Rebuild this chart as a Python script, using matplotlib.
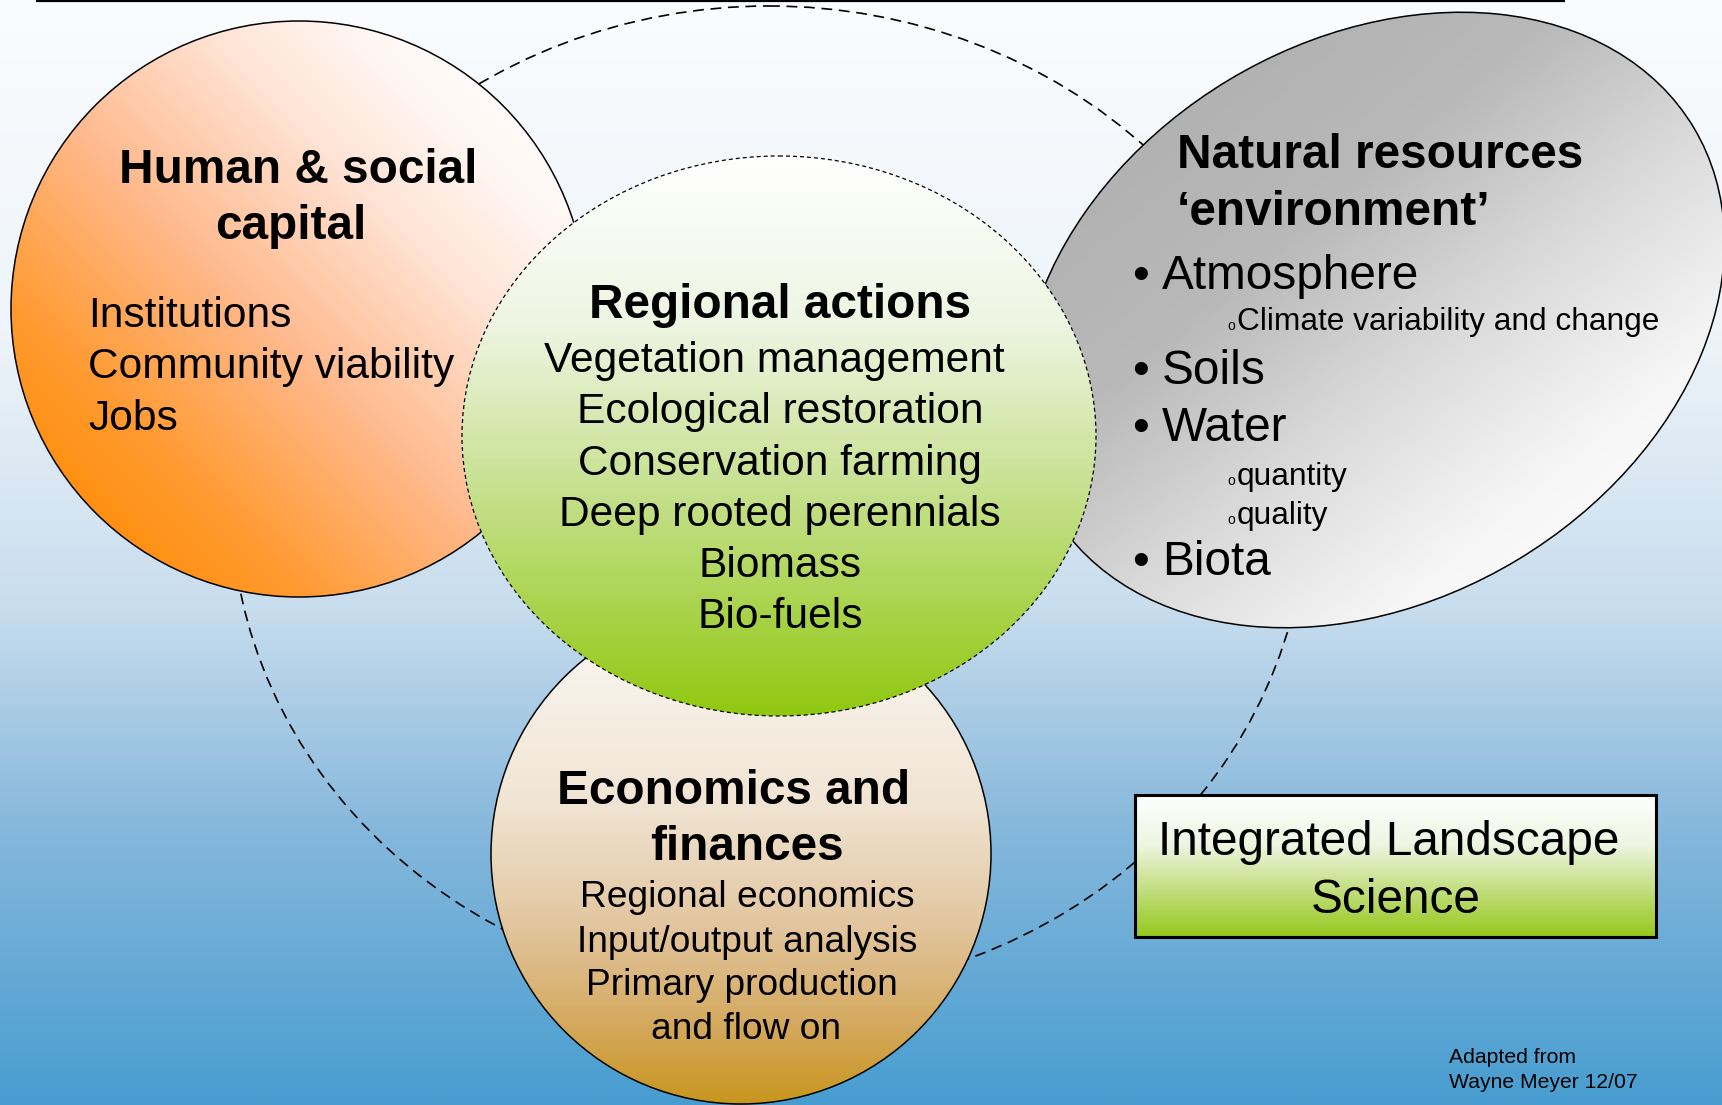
import numpy as np
import matplotlib.pyplot as plt
from matplotlib.patches import Ellipse, Circle, Rectangle
from matplotlib.colors import LinearSegmentedColormap

plt.rcParams['font.family'] = ['Liberation Sans', 'DejaVu Sans']

# text content of the diagram
human_title = ["Human & social", "capital"]
human_items = ["Institutions", "Community viability", "Jobs"]
regional_title = "Regional actions"
regional_items = ["Vegetation management", "Ecological restoration", "Conservation farming",
                  "Deep rooted perennials", "Biomass", "Bio-fuels"]
natural_title = ["Natural resources", "\u2018environment\u2019"]
natural_bullets = ["Atmosphere", "Soils", "Water", "Biota"]
natural_sub = ["Climate variability and change", "quantity", "quality"]
econ_title = ["Economics and", "finances"]
econ_items = ["Regional economics", "Input/output analysis", "Primary production", "and flow on"]
box_text = ["Integrated Landscape", "Science"]
credit = ["Adapted from", "Wayne Meyer 12/07"]

W, H = 1722, 1105
fig = plt.figure(figsize=(W / 100, H / 100), dpi=100)
ax = fig.add_axes([0, 0, 1, 1])
ax.axis('off')

gx, gy = np.meshgrid(np.linspace(0, W, 862), np.linspace(0, H, 553))


def shade(patch, stops, p0, p1, z):
    """linear gradient from p0 to p1, clipped to patch (patch keeps the outline)"""
    ax.add_patch(patch)
    patch.set_zorder(z + 0.1)
    d = np.subtract(p1, p0, dtype=float)
    t = ((gx - p0[0]) * d[0] + (gy - p0[1]) * d[1]) / (d @ d)
    cmap = LinearSegmentedColormap.from_list('g', stops)
    im = ax.imshow(cmap(np.clip(t, 0, 1)), extent=(0, W, H, 0), zorder=z,
                   interpolation='bilinear', aspect='auto')
    im.set_clip_path(patch)
    return im


# background
bg = LinearSegmentedColormap.from_list('bg', [(0, '#fafcfe'), (0.3, '#eef4f9'), (0.55, '#c8ddee'),
                                             (0.75, '#86b8dc'), (1, '#489dd0')])
ax.imshow(bg(np.clip(gy / H, 0, 1)), extent=(0, W, H, 0), zorder=0, interpolation='bilinear', aspect='auto')
ax.plot([36, 1565], [1, 1], color='black', lw=1.6, zorder=1, solid_capstyle='butt')

# big dashed ellipse linking everything
ax.add_patch(Ellipse((769, 500), 1076, 988, fill=False, ec='black', lw=1.2,
                     ls=(0, (6.5, 4)), zorder=1))

# Human & social capital
shade(Circle((299, 309), 288, fc='none', ec='black', lw=1.1),
      [(0, '#ff8a00'), (0.2, '#ff9a30'), (0.45, '#ffb98c'), (0.7, '#ffe4d6'), (0.85, '#fff6f2'), (1, '#ffffff')],
      (60, 548), (538, 70), 2)

# Natural resources
shade(Ellipse((1373, 320), 748, 560, angle=-31, fc='none', ec='black', lw=1.1),
      [(0, '#b0b0b0'), (0.3, '#b9b9b9'), (0.55, '#dadada'), (0.8, '#f6f6f6'), (1, '#ffffff')],
      (1150, 80), (1600, 620), 3)

# Economics and finances
shade(Circle((741, 854), 250, fc='none', ec='black', lw=1.1),
      [(0, '#fcfaf7'), (0.4, '#f1e4d3'), (0.65, '#e2c59e'), (0.85, '#d4a85c'), (1, '#c9961f')],
      (741, 604), (741, 1104), 4)

# Regional actions
shade(Ellipse((779, 436), 634, 560, fc='none', ec='black', lw=0.9, ls=(0, (3.2, 2.4))),
      [(0, '#ffffff'), (0.3, '#eef5e2'), (0.6, '#c6e08e'), (1, '#90c810')],
      (779, 156), (779, 716), 5)

# Integrated Landscape Science box
shade(Rectangle((1135, 795), 521, 142, fc='none', ec='black', lw=2.2),
      [(0, '#ffffff'), (0.35, '#eef5e2'), (1, '#96c81c')],
      (1135, 795), (1135, 937), 6)

tk = dict(va='baseline', zorder=10, color='black')
big, body = 34.4, 30.6

# Human & social capital text
ax.text(298, 183, human_title[0], ha='center', fontsize=big, fontweight='bold', **tk)
ax.text(291, 239, human_title[1], ha='center', fontsize=big, fontweight='bold', **tk)
for i, s in enumerate(human_items):
    ax.text(88, 327 + 51.3 * i, s, ha='left', fontsize=body, **tk)

# Regional actions text
ax.text(780, 318, regional_title, ha='center', fontsize=big, fontweight='bold', **tk)
for i, s in enumerate(regional_items):
    ax.text(774 if i == 0 else 780, 372 + 51.3 * i, s, ha='center', fontsize=body, **tk)

# Natural resources text
ax.text(1177, 168, natural_title[0], ha='left', fontsize=big, fontweight='bold', **tk)
ax.text(1177, 225, natural_title[1], ha='left', fontsize=big, fontweight='bold', **tk)
for s, y in zip(natural_bullets, [289, 384, 441, 575]):
    ax.text(1140, y, '\u2022', ha='center', fontsize=big, **tk)
    ax.text(1162, y, s, ha='left', fontsize=big, **tk)
for s, y in zip(natural_sub, [330, 485, 524]):
    ax.text(1227, y, 'o', ha='left', fontsize=10, **tk)
    ax.text(1237, y, s, ha='left', fontsize=22.8, **tk)

# Economics and finances text
ax.text(734, 804, econ_title[0], ha='center', fontsize=big, fontweight='bold', **tk)
ax.text(747, 860, econ_title[1], ha='center', fontsize=big, fontweight='bold', **tk)
for s, x, y in zip(econ_items, [747, 747, 742, 746], [907, 952, 995, 1039]):
    ax.text(x, y, s, ha='center', fontsize=26.7, **tk)

# box text and credit
ax.text(1389, 855, box_text[0], ha='center', fontsize=big, **tk)
ax.text(1396, 913, box_text[1], ha='center', fontsize=big, **tk)
ax.text(1449, 1063, credit[0], ha='left', fontsize=15.2, **tk)
ax.text(1449, 1088, credit[1], ha='left', fontsize=15.2, **tk)

ax.set_xlim(0, W)
ax.set_ylim(H, 0)
fig.savefig('out.png', dpi=100)
